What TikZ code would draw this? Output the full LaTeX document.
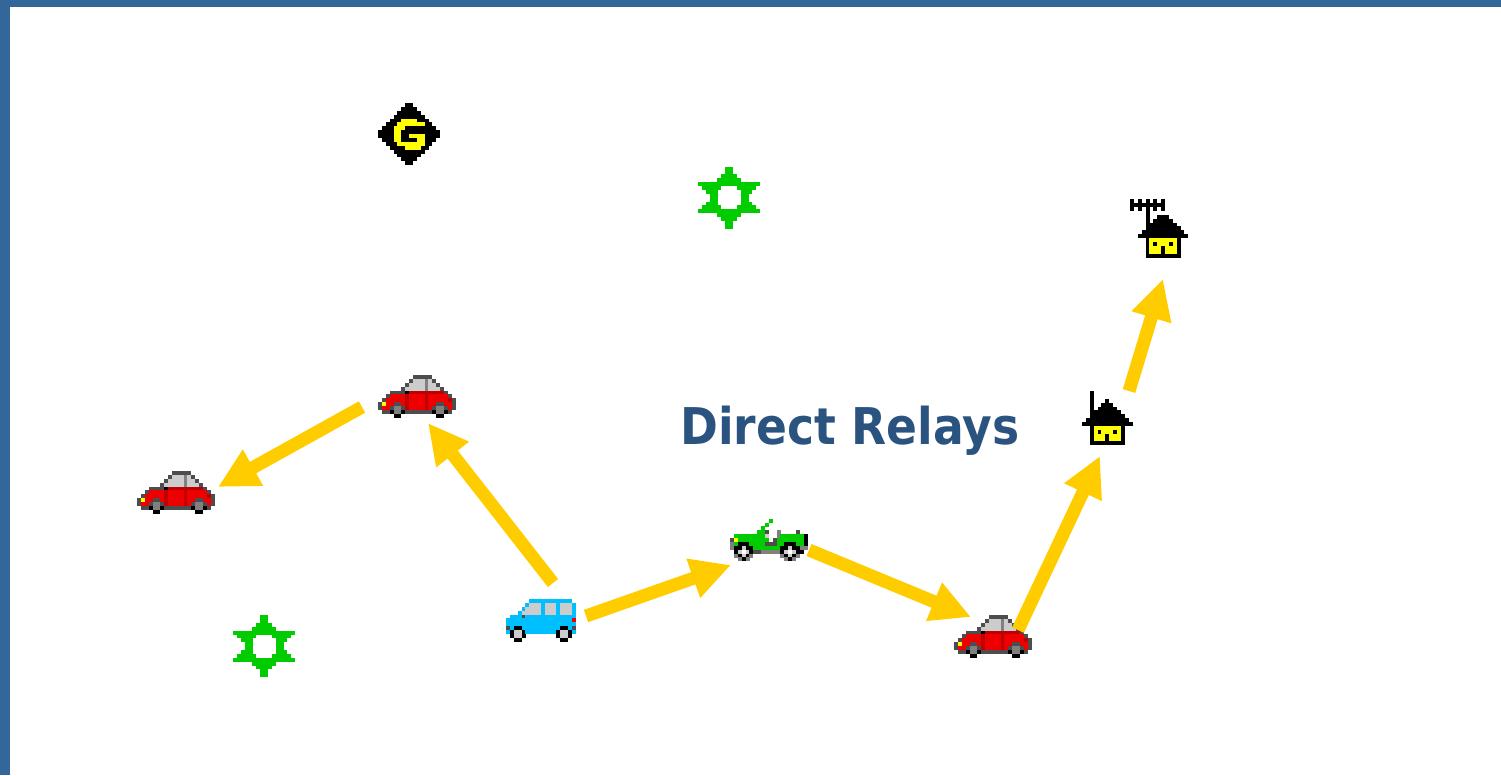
\documentclass[tikz,border=0pt]{standalone}
\usepackage{fontspec}
\usetikzlibrary{arrows.meta}
\newfontfamily\titlefont[FakeStretch=0.9]{DejaVu Sans}
\definecolor{pxK}{HTML}{000000}
\definecolor{pxD}{HTML}{4D4D4D}
\definecolor{pxM}{HTML}{808080}
\definecolor{pxL}{HTML}{CCCCCC}
\definecolor{pxW}{HTML}{FFFFFF}
\definecolor{pxR}{HTML}{EE0000}
\definecolor{pxB}{HTML}{C00000}
\definecolor{pxY}{HTML}{FFFF00}
\definecolor{pxG}{HTML}{00CC00}
\definecolor{pxT}{HTML}{00CC00}
\definecolor{pxC}{HTML}{00BFFF}
\definecolor{relaycolor}{HTML}{FFCC00}
\definecolor{framecolor}{HTML}{336699}
\definecolor{titlecolor}{HTML}{2B5380}
\newcount\pxrowno
\newcount\pxcolno
\newcommand\pxstart[2]{\def\pxox{#1}\def\pxoy{#2}\pxrowno=0 }
\def\pxcell#1{\ifx#1.\else\fill[color=px#1] ({\pxox+\the\pxcolno*3.875},{\pxoy+\the\pxrowno*3.875}) rectangle +(4,4);\fi\advance\pxcolno by 1 }
\def\pxscan#1{\ifx#1\relax\else\pxcell{#1}\expandafter\pxscan\fi}
\newcommand\pxr[1]{\pxcolno=0 \pxscan#1\relax\advance\pxrowno by 1 }
\newcommand\drawcar[2]{\pxstart{#1}{#2}%
\pxr{.........DDDDD......}%
\pxr{........DLLLMLD.....}%
\pxr{.......DLLLLMLLD....}%
\pxr{......DLLLLLMLLLD...}%
\pxr{...DDDDKBBBBBBBBBD..}%
\pxr{..DRRRRBRRRRBRRRRRD.}%
\pxr{.DRRRRRBRRRRBRRRRRBD}%
\pxr{DYRRDDRBRRRRBRRDDRRD}%
\pxr{DRRDMMDBRRRRBRDMMDRD}%
\pxr{.DDKMMKDDDDDDDKMMKD.}%
\pxr{....KK.........KK...}}
\newcommand\drawstar[2]{\pxstart{#1}{#2}%
\pxr{.......TT.......}%
\pxr{.......TT.......}%
\pxr{......TTTT......}%
\pxr{.....TTTTTT.....}%
\pxr{TTTTTTTTTTTTTTTT}%
\pxr{.TTTTT....TTTTT.}%
\pxr{..TTT......TTT..}%
\pxr{...TT......TT...}%
\pxr{...TT......TT...}%
\pxr{..TTT......TTT..}%
\pxr{.TTTTT....TTTTT.}%
\pxr{TTTTTTTTTTTTTTTT}%
\pxr{.....TTTTTT.....}%
\pxr{......TTTT......}%
\pxr{.......TT.......}%
\pxr{.......TT.......}}
\tikzset{
  iconbox/.style={inset sep=0pt,inner sep=0pt,outer sep=0pt,minimum width=#1},
  inset sep/.style={},
  relay/.style={draw=relaycolor,line width=9.75pt,line cap=butt,
    -{Triangle[length=30pt,width=29pt,fill=relaycolor]}},
  titletext/.style={font=\titlefont\bfseries\fontsize{38}{44}\selectfont,text=titlecolor,inner sep=0pt}
}
\begin{document}
\begin{tikzpicture}[x=0.75pt,y=-0.75pt]
\useasboundingbox (0,0) rectangle (1501,775);
\fill[framecolor] (0,0) rectangle (1501,7);
\fill[framecolor] (0,0) rectangle (10,775);
% invisible icon nodes
\node[iconbox=46.5pt,minimum height=46.5pt] (gw) at (409,134) {};
\node[iconbox=46.5pt,minimum height=46.5pt] (startop) at (729,197.7) {};
\node[iconbox=46.5pt,minimum height=46.5pt] (starlow) at (264,646) {};
\node[iconbox=58pt,minimum height=32pt] (carmid) at (416.75,396.3) {};
\node[iconbox=58pt,minimum height=32pt] (carleft) at (175.75,492.3) {};
\node[iconbox=58pt,minimum height=32pt] (carright) at (992.75,636.3) {};
\node[iconbox=52pt,minimum height=32pt] (van) at (540.9,620.3) {};
\node[iconbox=58pt,minimum height=32pt] (jeep) at (768.75,540) {};
\node[iconbox=43.6pt,minimum height=43.6pt] (housetop) at (1159,228.4) {};
\node[iconbox=37.8pt,minimum height=40.7pt] (houselow) at (1107.2,418.1) {};
% gateway
\pxstart{378}{103}%
\pxr{.......KK.......}%
\pxr{......KKKK......}%
\pxr{.....KKKKKK.....}%
\pxr{....KKKKKKKK....}%
\pxr{...KKKYYYYKKK...}%
\pxr{..KKKYYYYYYYKK..}%
\pxr{.KKKYYYKKKKKKKK.}%
\pxr{KKKKYYKKKKKKKKKK}%
\pxr{KKKKYYKKYYYYKKKK}%
\pxr{.KKKYYKKKKYYKKK.}%
\pxr{..KKKYYYYYYYKK..}%
\pxr{...KKKKYYYYKK...}%
\pxr{....KKKKKKKK....}%
\pxr{.....KKKKKK.....}%
\pxr{......KKKK......}%
\pxr{.......KK.......}%
\drawstar{698}{166.7}
\drawstar{233}{615}
\drawcar{378}{375}
\drawcar{137}{471}
\drawcar{954}{615}
% van
\pxstart{506}{599}%
\pxr{......CCCCCCCCCCC.}%
\pxr{.....CLLLCLLLCLLLC}%
\pxr{....CLLLLCLLLCLLLC}%
\pxr{...CLLLLLCLLLCLLLC}%
\pxr{.CCCDCCCCCCCCCCCCC}%
\pxr{CCCCCCCCCCCCCCCCCR}%
\pxr{CCCCCCCCCCCCCCCCCC}%
\pxr{DCKKCCCCCCCCCCKKCD}%
\pxr{CKLLKCCCCCCCCKLLKC}%
\pxr{.KLLK........KLLK.}%
\pxr{..KK..........KK..}%
% jeep
\pxstart{730}{518.7}%
\pxr{..........G.........}%
\pxr{.........G..........}%
\pxr{........G...........}%
\pxr{.......GGD..M....D..}%
\pxr{.GGGGGGGGL..MGGGGGGK}%
\pxr{DYGGGGGGGG.DGGGGGGGK}%
\pxr{MGKKKGGGGDDDGGKKKGGK}%
\pxr{MKKLKKGGGGGGGKKLKKMM}%
\pxr{.KLWLKDDMMMMMKLWLKK.}%
\pxr{.MKLKM.......MKLKM..}%
\pxr{..MKM.........MKM...}%
% house with the roof antenna
\pxstart{1130}{199.3}%
\pxr{K.K.K.K.K......}%
\pxr{KKKKKKKKK......}%
\pxr{K.K.K.K.K......}%
\pxr{....K..........}%
\pxr{....K..KKK.....}%
\pxr{....K.KKKKK....}%
\pxr{....KKKKKKKK...}%
\pxr{....KKKKKKKKK..}%
\pxr{...KKKKKKKKKKK.}%
\pxr{..KKKKKKKKKKKKK}%
\pxr{....KYYYYYYYK..}%
\pxr{....KYKYYYKYK..}%
\pxr{....KYYYKYYYK..}%
\pxr{....KYYYKYYYK..}%
\pxr{....KKKKKKKKK..}%
% house with the mast
\pxstart{1082}{391}%
\pxr{..K..........}%
\pxr{..K..........}%
\pxr{..K...K......}%
\pxr{..K..KKK.....}%
\pxr{..K.KKKKK....}%
\pxr{..KKKKKKKK...}%
\pxr{..KKKKKKKKK..}%
\pxr{.KKKKKKKKKKK.}%
\pxr{KKKKKKKKKKKKK}%
\pxr{..KYYYYYYYK..}%
\pxr{..KYKYYYKYK..}%
\pxr{..KYYYKYYYK..}%
\pxr{..KYYYKYYYK..}%
\pxr{..KKKKKKKKK..}%
\node[titletext] (title) at (850,431) {Direct Relays};
\draw[relay] ([shift={(12.1,-37.3)}]van.center) -- ([shift={(11.25,26.7)}]carmid.center);
\draw[relay] ([shift={(-54.75,10.7)}]carmid.center) -- ([shift={(42.25,-5.3)}]carleft.center);
\draw[relay] ([shift={(45.1,-4.3)}]van.center) -- ([shift={(-37.75,25)}]jeep.center);
\draw[relay] ([shift={(40.25,10)}]jeep.center) -- ([shift={(-21.75,-19.3)}]carright.center);
\draw[relay] ([shift={(25.25,-6.3)}]carright.center) -- ([shift={(-7.2,37.9)}]houselow.center);
\draw[relay] ([shift={(21.8,-27.1)}]houselow.center) -- ([shift={(4,50.6)}]housetop.center);
\end{tikzpicture}
\end{document}
